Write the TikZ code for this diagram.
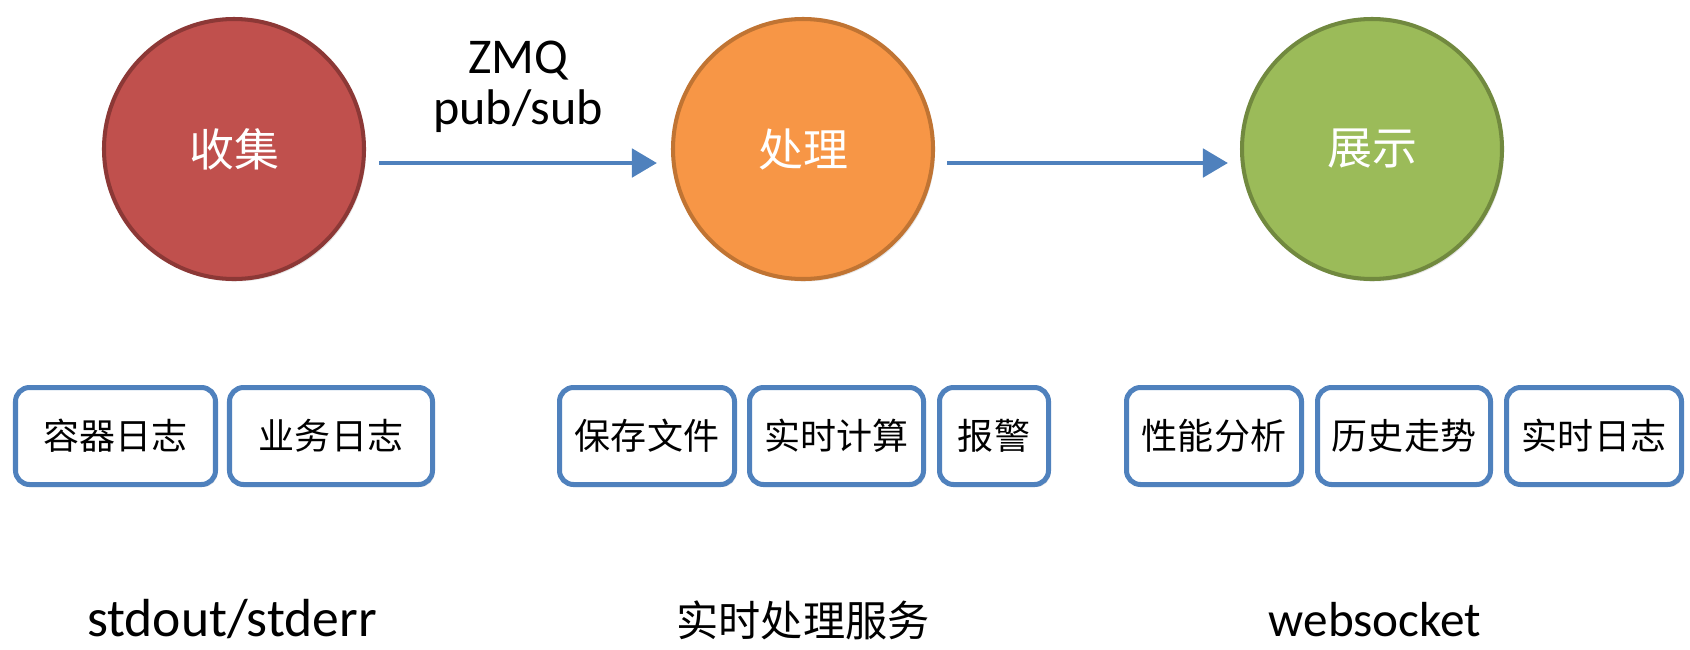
\documentclass[tikz,border=0pt]{standalone}
\usepackage{fontspec}
\setmainfont{Carlito}
\newfontfamily\cjk{Noto Sans CJK SC}
\usetikzlibrary{arrows.meta,shadows}
\definecolor{collectred}{HTML}{C0504D}
\definecolor{collectline}{HTML}{8C3836}
\definecolor{processorange}{HTML}{F79646}
\definecolor{processline}{HTML}{C07433}
\definecolor{showgreen}{HTML}{9BBB59}
\definecolor{showline}{HTML}{71893F}
\definecolor{boxblue}{HTML}{4F81BD}

\begin{document}
\begin{tikzpicture}[
    stage/.style={circle, minimum size=5.2cm, line width=2.3pt, text=white,
        font=\cjk\fontsize{25.6}{30}\selectfont,
        drop shadow={opacity=0.2, shadow xshift=0.04cm, shadow yshift=-0.05cm}},
    task/.style={draw=boxblue, fill=white, line width=2.85pt, rounded corners=0.28cm,
        minimum height=1.94cm, inner sep=0pt, font=\cjk\fontsize{20.5}{24}\selectfont,
        drop shadow={opacity=0.2, shadow xshift=0.04cm, shadow yshift=-0.05cm}},
    flow/.style={draw=boxblue, line width=2.8pt, -{Triangle[length=0.5cm,width=0.56cm]}},
    caption/.style={anchor=base, font=\fontsize{28}{32}\selectfont}
]
\useasboundingbox (0,0) rectangle (33.8,-12.98);

% three stages
\node[stage, fill=collectred, draw=collectline] (collect) at (4.68,-2.98) {收集};
\node[stage, fill=processorange, draw=processline] (process) at (16.06,-2.98) {处理};
\node[stage, fill=showgreen, draw=showline] (show) at (27.44,-2.98) {展示};

\draw[flow] ([xshift=0.26cm,yshift=-0.28cm]collect.east) -- ([xshift=-0.28cm,yshift=-0.28cm]process.west)
    node[midway, above=0.56cm, inner sep=0pt, align=center, font=\fontsize{28.5}{29}\selectfont] (zmq) {ZMQ\\pub/sub};
\draw[flow] ([xshift=0.24cm,yshift=-0.28cm]process.east) -- ([xshift=-0.24cm,yshift=-0.28cm]show.west);

% tasks
\node[task, minimum width=4.0cm] (container) at (2.31,-8.72) {容器日志};
\node[task, minimum width=4.06cm] (business) at (6.62,-8.72) {业务日志};
\node[task, minimum width=3.5cm] (savefile) at (12.94,-8.72) {保存文件};
\node[task, minimum width=3.48cm] (realcalc) at (16.73,-8.72) {实时计算};
\node[task, minimum width=2.18cm] (alarm) at (19.88,-8.72) {报警};
\node[task, minimum width=3.5cm] (perf) at (24.28,-8.72) {性能分析};
\node[task, minimum width=3.46cm] (trend) at (28.08,-8.72) {历史走势};
\node[task, minimum width=3.5cm] (livelog) at (31.88,-8.72) {实时日志};

% captions
\node[caption, font=\fontsize{30.5}{34}\selectfont] (stdio) at (4.64,-12.72) {stdout/stderr};
\node[caption, font=\cjk\fontsize{24}{28}\selectfont] (service) at (16.06,-12.72) {实时处理服务};
\node[caption] (websock) at (27.5,-12.72) {websocket};
\end{tikzpicture}
\end{document}
